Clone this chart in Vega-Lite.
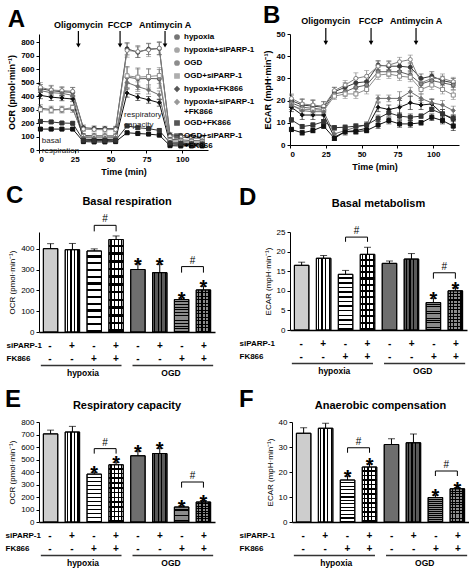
{
"$schema":"https://vega.github.io/schema/vega-lite/v6.json",
"padding":{"left":5,"top":4,"right":0,"bottom":0},
"background":"white",
"config":{"font":"Liberation Sans","view":{"stroke":null},
 "axis":{"labelFontSize":8,"labelFontWeight":"bold","titleFontSize":9,"titleFontWeight":"bold","domainColor":"black","tickColor":"black","labelColor":"black","titleColor":"black","tickSize":3,"grid":false,"labelPadding":2,"titlePadding":4,"labelOverlap":false},
 "title":{"color":"black"},"text":{"color":"black"}},
"resolve":{"scale":{"color":"independent","fill":"independent","shape":"independent"}},
"datasets":{
"ocr":[
{"s":"H","t":1,"v":455,"e":30},{"s":"H","t":8.5,"v":440,"e":35},{"s":"H","t":16,"v":432,"e":30},{"s":"H","t":23.5,"v":428,"e":35},{"s":"H","t":31,"v":165,"e":20},{"s":"H","t":38.5,"v":160,"e":18},{"s":"H","t":46,"v":158,"e":18},{"s":"H","t":53.5,"v":158,"e":18},{"s":"H","t":61.5,"v":750,"e":45},{"s":"H","t":69,"v":725,"e":40},{"s":"H","t":76.5,"v":748,"e":40},{"s":"H","t":84,"v":752,"e":45},{"s":"H","t":91.5,"v":112,"e":15},{"s":"H","t":99,"v":108,"e":12},{"s":"H","t":106.5,"v":100,"e":12},{"s":"H","t":114,"v":95,"e":12},
{"s":"HS","t":1,"v":465,"e":35},{"s":"HS","t":8.5,"v":445,"e":35},{"s":"HS","t":16,"v":440,"e":30},{"s":"HS","t":23.5,"v":435,"e":30},{"s":"HS","t":31,"v":155,"e":18},{"s":"HS","t":38.5,"v":152,"e":18},{"s":"HS","t":46,"v":150,"e":18},{"s":"HS","t":53.5,"v":152,"e":18},{"s":"HS","t":61.5,"v":738,"e":50},{"s":"HS","t":69,"v":730,"e":45},{"s":"HS","t":76.5,"v":742,"e":50},{"s":"HS","t":84,"v":755,"e":50},{"s":"HS","t":91.5,"v":100,"e":12},{"s":"HS","t":99,"v":95,"e":12},{"s":"HS","t":106.5,"v":88,"e":12},{"s":"HS","t":114,"v":85,"e":10},
{"s":"O","t":1,"v":310,"e":25},{"s":"O","t":8.5,"v":300,"e":25},{"s":"O","t":16,"v":300,"e":25},{"s":"O","t":23.5,"v":305,"e":25},{"s":"O","t":31,"v":108,"e":15},{"s":"O","t":38.5,"v":106,"e":15},{"s":"O","t":46,"v":105,"e":15},{"s":"O","t":53.5,"v":105,"e":15},{"s":"O","t":61.5,"v":540,"e":80},{"s":"O","t":69,"v":528,"e":80},{"s":"O","t":76.5,"v":530,"e":70},{"s":"O","t":84,"v":528,"e":70},{"s":"O","t":91.5,"v":80,"e":12},{"s":"O","t":99,"v":75,"e":10},{"s":"O","t":106.5,"v":70,"e":10},{"s":"O","t":114,"v":68,"e":10},
{"s":"OS","t":1,"v":300,"e":20},{"s":"OS","t":8.5,"v":295,"e":20},{"s":"OS","t":16,"v":300,"e":20},{"s":"OS","t":23.5,"v":315,"e":20},{"s":"OS","t":31,"v":100,"e":15},{"s":"OS","t":38.5,"v":98,"e":15},{"s":"OS","t":46,"v":98,"e":15},{"s":"OS","t":53.5,"v":100,"e":15},{"s":"OS","t":61.5,"v":550,"e":60},{"s":"OS","t":69,"v":540,"e":60},{"s":"OS","t":76.5,"v":545,"e":60},{"s":"OS","t":84,"v":552,"e":60},{"s":"OS","t":91.5,"v":70,"e":10},{"s":"OS","t":99,"v":65,"e":10},{"s":"OS","t":106.5,"v":60,"e":10},{"s":"OS","t":114,"v":58,"e":10},
{"s":"HF","t":1,"v":405,"e":25},{"s":"HF","t":8.5,"v":392,"e":25},{"s":"HF","t":16,"v":385,"e":20},{"s":"HF","t":23.5,"v":378,"e":20},{"s":"HF","t":31,"v":80,"e":10},{"s":"HF","t":38.5,"v":78,"e":10},{"s":"HF","t":46,"v":78,"e":10},{"s":"HF","t":53.5,"v":80,"e":10},{"s":"HF","t":61.5,"v":422,"e":30},{"s":"HF","t":69,"v":392,"e":25},{"s":"HF","t":76.5,"v":372,"e":25},{"s":"HF","t":84,"v":350,"e":25},{"s":"HF","t":91.5,"v":45,"e":10},{"s":"HF","t":99,"v":42,"e":8},{"s":"HF","t":106.5,"v":40,"e":8},{"s":"HF","t":114,"v":38,"e":8},
{"s":"HSF","t":1,"v":440,"e":30},{"s":"HSF","t":8.5,"v":425,"e":30},{"s":"HSF","t":16,"v":420,"e":25},{"s":"HSF","t":23.5,"v":405,"e":25},{"s":"HSF","t":31,"v":92,"e":10},{"s":"HSF","t":38.5,"v":90,"e":10},{"s":"HSF","t":46,"v":90,"e":10},{"s":"HSF","t":53.5,"v":92,"e":10},{"s":"HSF","t":61.5,"v":500,"e":40},{"s":"HSF","t":69,"v":470,"e":35},{"s":"HSF","t":76.5,"v":445,"e":30},{"s":"HSF","t":84,"v":408,"e":30},{"s":"HSF","t":91.5,"v":60,"e":10},{"s":"HSF","t":99,"v":55,"e":10},{"s":"HSF","t":106.5,"v":50,"e":10},{"s":"HSF","t":114,"v":48,"e":8},
{"s":"OF","t":1,"v":155,"e":10},{"s":"OF","t":8.5,"v":155,"e":10},{"s":"OF","t":16,"v":155,"e":10},{"s":"OF","t":23.5,"v":155,"e":10},{"s":"OF","t":31,"v":62,"e":8},{"s":"OF","t":38.5,"v":60,"e":8},{"s":"OF","t":46,"v":60,"e":8},{"s":"OF","t":53.5,"v":62,"e":8},{"s":"OF","t":61.5,"v":128,"e":10},{"s":"OF","t":69,"v":122,"e":10},{"s":"OF","t":76.5,"v":118,"e":10},{"s":"OF","t":84,"v":110,"e":10},{"s":"OF","t":91.5,"v":32,"e":6},{"s":"OF","t":99,"v":30,"e":6},{"s":"OF","t":106.5,"v":30,"e":6},{"s":"OF","t":114,"v":30,"e":6},
{"s":"OSF","t":1,"v":212,"e":12},{"s":"OSF","t":8.5,"v":208,"e":12},{"s":"OSF","t":16,"v":200,"e":10},{"s":"OSF","t":23.5,"v":198,"e":10},{"s":"OSF","t":31,"v":72,"e":8},{"s":"OSF","t":38.5,"v":70,"e":8},{"s":"OSF","t":46,"v":70,"e":8},{"s":"OSF","t":53.5,"v":72,"e":8},{"s":"OSF","t":61.5,"v":178,"e":12},{"s":"OSF","t":69,"v":165,"e":12},{"s":"OSF","t":76.5,"v":158,"e":12},{"s":"OSF","t":84,"v":145,"e":12},{"s":"OSF","t":91.5,"v":52,"e":6},{"s":"OSF","t":99,"v":50,"e":6},{"s":"OSF","t":106.5,"v":46,"e":6},{"s":"OSF","t":114,"v":45,"e":6}
],
"ecar":[
{"s":"H","t":1,"v":20,"e":2.5},{"s":"H","t":8.5,"v":18,"e":2.5},{"s":"H","t":16,"v":17.5,"e":2.5},{"s":"H","t":23.5,"v":17,"e":2.5},{"s":"H","t":31,"v":24,"e":2},{"s":"H","t":38.5,"v":26,"e":2},{"s":"H","t":46,"v":28,"e":2},{"s":"H","t":53.5,"v":28.5,"e":2},{"s":"H","t":61.5,"v":36,"e":2},{"s":"H","t":69,"v":35.5,"e":2},{"s":"H","t":76.5,"v":35.5,"e":2},{"s":"H","t":84,"v":35,"e":2},{"s":"H","t":91.5,"v":30,"e":2},{"s":"H","t":99,"v":31,"e":2},{"s":"H","t":106.5,"v":29,"e":2},{"s":"H","t":114,"v":28,"e":2},
{"s":"HS","t":1,"v":21,"e":2},{"s":"HS","t":8.5,"v":18.5,"e":2.5},{"s":"HS","t":16,"v":18,"e":2.5},{"s":"HS","t":23.5,"v":17.5,"e":2},{"s":"HS","t":31,"v":24.5,"e":1.5},{"s":"HS","t":38.5,"v":27,"e":2},{"s":"HS","t":46,"v":30,"e":2.5},{"s":"HS","t":53.5,"v":31,"e":2.5},{"s":"HS","t":61.5,"v":35.5,"e":2},{"s":"HS","t":69,"v":36,"e":2},{"s":"HS","t":76.5,"v":37.5,"e":2},{"s":"HS","t":84,"v":38.5,"e":2},{"s":"HS","t":91.5,"v":28,"e":2},{"s":"HS","t":99,"v":30,"e":2},{"s":"HS","t":106.5,"v":30,"e":2},{"s":"HS","t":114,"v":28.5,"e":2},
{"s":"O","t":1,"v":19,"e":2},{"s":"O","t":8.5,"v":17,"e":2},{"s":"O","t":16,"v":16.5,"e":2},{"s":"O","t":23.5,"v":16,"e":2},{"s":"O","t":31,"v":23,"e":1.5},{"s":"O","t":38.5,"v":24,"e":2},{"s":"O","t":46,"v":26,"e":2},{"s":"O","t":53.5,"v":27,"e":2},{"s":"O","t":61.5,"v":33,"e":2},{"s":"O","t":69,"v":33,"e":2},{"s":"O","t":76.5,"v":33,"e":2},{"s":"O","t":84,"v":31.5,"e":2},{"s":"O","t":91.5,"v":27.5,"e":2},{"s":"O","t":99,"v":29,"e":2},{"s":"O","t":106.5,"v":28,"e":2},{"s":"O","t":114,"v":27,"e":2},
{"s":"OS","t":1,"v":18,"e":2},{"s":"OS","t":8.5,"v":16,"e":2},{"s":"OS","t":16,"v":16,"e":2},{"s":"OS","t":23.5,"v":15.5,"e":2},{"s":"OS","t":31,"v":22,"e":1.5},{"s":"OS","t":38.5,"v":23,"e":2},{"s":"OS","t":46,"v":23,"e":2},{"s":"OS","t":53.5,"v":25,"e":2},{"s":"OS","t":61.5,"v":31.5,"e":2},{"s":"OS","t":69,"v":32,"e":2},{"s":"OS","t":76.5,"v":31,"e":2},{"s":"OS","t":84,"v":30.5,"e":2},{"s":"OS","t":91.5,"v":25,"e":2},{"s":"OS","t":99,"v":27,"e":2},{"s":"OS","t":106.5,"v":25,"e":2},{"s":"OS","t":114,"v":22.5,"e":2},
{"s":"HF","t":1,"v":17,"e":2},{"s":"HF","t":8.5,"v":13.5,"e":2},{"s":"HF","t":16,"v":13.5,"e":2},{"s":"HF","t":23.5,"v":13.5,"e":2},{"s":"HF","t":31,"v":3.5,"e":1.5},{"s":"HF","t":38.5,"v":6,"e":1.5},{"s":"HF","t":46,"v":6.5,"e":1.5},{"s":"HF","t":53.5,"v":7.5,"e":1.5},{"s":"HF","t":61.5,"v":17,"e":2},{"s":"HF","t":69,"v":16,"e":2},{"s":"HF","t":76.5,"v":17,"e":3},{"s":"HF","t":84,"v":19,"e":3},{"s":"HF","t":91.5,"v":18,"e":2},{"s":"HF","t":99,"v":18.5,"e":2},{"s":"HF","t":106.5,"v":14,"e":2},{"s":"HF","t":114,"v":11.5,"e":2},
{"s":"HSF","t":1,"v":18,"e":2},{"s":"HSF","t":8.5,"v":15.5,"e":2},{"s":"HSF","t":16,"v":15,"e":2},{"s":"HSF","t":23.5,"v":15,"e":2},{"s":"HSF","t":31,"v":5,"e":1.5},{"s":"HSF","t":38.5,"v":6.5,"e":1.5},{"s":"HSF","t":46,"v":8,"e":1.5},{"s":"HSF","t":53.5,"v":9,"e":1.5},{"s":"HSF","t":61.5,"v":21,"e":1.5},{"s":"HSF","t":69,"v":21,"e":1.5},{"s":"HSF","t":76.5,"v":21,"e":3},{"s":"HSF","t":84,"v":24,"e":2},{"s":"HSF","t":91.5,"v":21,"e":2},{"s":"HSF","t":99,"v":19,"e":2},{"s":"HSF","t":106.5,"v":18,"e":2},{"s":"HSF","t":114,"v":15.5,"e":2},
{"s":"OF","t":1,"v":7,"e":1},{"s":"OF","t":8.5,"v":5.5,"e":1},{"s":"OF","t":16,"v":6.5,"e":1},{"s":"OF","t":23.5,"v":8.5,"e":1},{"s":"OF","t":31,"v":3,"e":1},{"s":"OF","t":38.5,"v":6,"e":1},{"s":"OF","t":46,"v":6,"e":1},{"s":"OF","t":53.5,"v":6.5,"e":1},{"s":"OF","t":61.5,"v":9,"e":1.5},{"s":"OF","t":69,"v":11,"e":1.5},{"s":"OF","t":76.5,"v":9.5,"e":1.5},{"s":"OF","t":84,"v":9.5,"e":1.5},{"s":"OF","t":91.5,"v":10,"e":1},{"s":"OF","t":99,"v":12.5,"e":1.5},{"s":"OF","t":106.5,"v":11,"e":1.5},{"s":"OF","t":114,"v":8.5,"e":2},
{"s":"OSF","t":1,"v":11.3,"e":1},{"s":"OSF","t":8.5,"v":8.3,"e":1},{"s":"OSF","t":16,"v":9,"e":1},{"s":"OSF","t":23.5,"v":10.5,"e":1},{"s":"OSF","t":31,"v":7.8,"e":1},{"s":"OSF","t":38.5,"v":8,"e":1},{"s":"OSF","t":46,"v":8.5,"e":1},{"s":"OSF","t":53.5,"v":9,"e":1},{"s":"OSF","t":61.5,"v":12,"e":1.5},{"s":"OSF","t":69,"v":14.5,"e":1.5},{"s":"OSF","t":76.5,"v":13,"e":1.5},{"s":"OSF","t":84,"v":12.5,"e":1.5},{"s":"OSF","t":91.5,"v":13,"e":1},{"s":"OSF","t":99,"v":16,"e":1},{"s":"OSF","t":106.5,"v":14,"e":1},{"s":"OSF","t":114,"v":12,"e":1}
],
"drugs":[
{"p":"A","drug":"Oligomycin","t":27.5,"ty":904,"y1":882,"y2":775},
{"p":"A","drug":"FCCP","t":56.6,"ty":904,"y1":882,"y2":775},
{"p":"A","drug":"Antimycin A","t":88,"ty":904,"y1":882,"y2":775},
{"p":"B","drug":"Oligomycin","t":25,"ty":54.5,"y1":52.7,"y2":46},
{"p":"B","drug":"FCCP","t":56.6,"ty":54.5,"y1":52.7,"y2":46},
{"p":"B","drug":"Antimycin A","t":88,"ty":54.5,"y1":52.7,"y2":46}
],
"notes":[
{"t":2,"y":67,"txt":"basal\nrespiration"},
{"t":59.4,"y":259,"txt":"respiratory\ncapacity"}
],
"bars":[
{"p":"C","c":"H","v":400,"e":24,"sig":0},{"p":"C","c":"HS","v":395,"e":30,"sig":0},{"p":"C","c":"HF","v":389,"e":10,"sig":0},{"p":"C","c":"HSF","v":444,"e":17,"sig":0},{"p":"C","c":"O","v":300,"e":28,"sig":1},{"p":"C","c":"OS","v":285,"e":40,"sig":1},{"p":"C","c":"OF","v":156,"e":8,"sig":1},{"p":"C","c":"OSF","v":202,"e":18,"sig":1},
{"p":"D","c":"H","v":16.5,"e":0.8,"sig":0},{"p":"D","c":"HS","v":18.3,"e":0.7,"sig":0},{"p":"D","c":"HF","v":14.2,"e":1.0,"sig":0},{"p":"D","c":"HSF","v":19.3,"e":1.8,"sig":0},{"p":"D","c":"O","v":17,"e":0.6,"sig":0},{"p":"D","c":"OS","v":18.1,"e":1.4,"sig":0},{"p":"D","c":"OF","v":7.0,"e":1.1,"sig":1},{"p":"D","c":"OSF","v":10.0,"e":0.8,"sig":1},
{"p":"E","c":"H","v":705,"e":30,"sig":0},{"p":"E","c":"HS","v":720,"e":45,"sig":0},{"p":"E","c":"HF","v":383,"e":15,"sig":1},{"p":"E","c":"HSF","v":458,"e":20,"sig":1},{"p":"E","c":"O","v":530,"e":37,"sig":1},{"p":"E","c":"OS","v":548,"e":42,"sig":1},{"p":"E","c":"OF","v":120,"e":8,"sig":1},{"p":"E","c":"OSF","v":160,"e":12,"sig":1},
{"p":"F","c":"H","v":35.5,"e":2.2,"sig":0},{"p":"F","c":"HS","v":37.5,"e":2.0,"sig":0},{"p":"F","c":"HF","v":16.8,"e":1.6,"sig":1},{"p":"F","c":"HSF","v":22,"e":1.3,"sig":1},{"p":"F","c":"O","v":31,"e":2.3,"sig":0},{"p":"F","c":"OS","v":31.7,"e":3.5,"sig":0},{"p":"F","c":"OF","v":9.8,"e":1.0,"sig":1},{"p":"F","c":"OSF","v":13.3,"e":0.5,"sig":1}
],
"brk":[
{"p":"C","pair":"h","c":"HF","hi":512,"lo":483},{"p":"C","pair":"h","c":"HSF","hi":512,"lo":483},{"p":"C","pair":"o","c":"OF","hi":314,"lo":285},{"p":"C","pair":"o","c":"OSF","hi":314,"lo":285},
{"p":"D","pair":"h","c":"HF","hi":23.7,"lo":22.5},{"p":"D","pair":"h","c":"HSF","hi":23.7,"lo":22.5},{"p":"D","pair":"o","c":"OF","hi":14.6,"lo":13.1},{"p":"D","pair":"o","c":"OSF","hi":14.6,"lo":13.1},
{"p":"E","pair":"h","c":"HF","hi":587,"lo":547},{"p":"E","pair":"h","c":"HSF","hi":587,"lo":547},{"p":"E","pair":"o","c":"OF","hi":320,"lo":275},{"p":"E","pair":"o","c":"OSF","hi":320,"lo":275},
{"p":"F","pair":"h","c":"HF","hi":29.7,"lo":27.7},{"p":"F","pair":"h","c":"HSF","hi":29.7,"lo":27.7},{"p":"F","pair":"o","c":"OF","hi":20.4,"lo":18.4},{"p":"F","pair":"o","c":"OSF","hi":20.4,"lo":18.4}
],
"signs":[
{"c":"H","row":"siPARP-1","sign":"-"},{"c":"HS","row":"siPARP-1","sign":"+"},{"c":"HF","row":"siPARP-1","sign":"-"},{"c":"HSF","row":"siPARP-1","sign":"+"},{"c":"O","row":"siPARP-1","sign":"-"},{"c":"OS","row":"siPARP-1","sign":"+"},{"c":"OF","row":"siPARP-1","sign":"-"},{"c":"OSF","row":"siPARP-1","sign":"+"},
{"c":"H","row":"FK866","sign":"-"},{"c":"HS","row":"FK866","sign":"-"},{"c":"HF","row":"FK866","sign":"+"},{"c":"HSF","row":"FK866","sign":"+"},{"c":"O","row":"FK866","sign":"-"},{"c":"OS","row":"FK866","sign":"-"},{"c":"OF","row":"FK866","sign":"+"},{"c":"OSF","row":"FK866","sign":"+"}
],
"groups":[{"g":"hypoxia","row":"grp"},{"g":"OGD","row":"grp"}]
},
"spacing":8,
"vconcat":[
{"hconcat":[
{"width":169,"height":116,
 "title":{"text":"A","anchor":"start","fontSize":24,"fontWeight":"bold","offset":-11},
 "layer":[
  {"data":{"name":"ocr"},
   "encoding":{
    "x":{"field":"t","type":"quantitative","title":"Time (min)","scale":{"domain":[0,118],"nice":false},"axis":{"values":[0,25,50,75,100]}},
    "y":{"field":"v","type":"quantitative","title":"OCR (pmol·min⁻¹)","scale":{"domain":[0,860],"nice":false},"axis":{"values":[0,100,200,300,400,500,600,700,800]}},
    "color":{"field":"s","type":"nominal","scale":{"domain":["H","HS","O","OS","HF","HSF","OF","OSF"],"range":["#3a3a3a","#808080","#5c5c5c","#8c8c8c","#111111","#6e6e6e","#111111","#333333"]},
     "legend":{"title":null,"orient":"none","legendX":134,"legendY":-1,"labelFontSize":8,"labelFontWeight":"bold","symbolSize":18,"symbolType":"circle","symbolStrokeWidth":1.5,"rowPadding":1,"labelLimit":80,"labelOffset":3,
      "labelExpr":"datum.label=='H'?'hypoxia':datum.label=='HS'?'hypoxia+siPARP-1':datum.label=='O'?'OGD':datum.label=='OS'?'OGD+siPARP-1':datum.label=='HF'?'hypoxia+FK866':datum.label=='HSF'?['hypoxia+siPARP-1','+FK866']:datum.label=='OF'?'OGD+FK866':['OGD+siPARP-1','+FK866']"}}
   },
   "layer":[
    {"mark":{"type":"errorbar","ticks":true,"thickness":0.8},"encoding":{"yError":{"field":"e"}}},
    {"mark":{"type":"line","strokeWidth":1}},
    {"mark":{"type":"point","size":16,"strokeWidth":1,"opacity":1},
     "encoding":{
      "shape":{"field":"s","type":"nominal","scale":{"domain":["H","HS","O","OS","HF","HSF","OF","OSF"],"range":["circle","circle","circle","square","diamond","diamond","square","square"]},"legend":null},
      "fill":{"field":"s","type":"nominal","scale":{"domain":["H","HS","O","OS","HF","HSF","OF","OSF"],"range":["#3a3a3a","#ffffff","#8c8c8c","#ffffff","#111111","#6e6e6e","#111111","#333333"]},"legend":null}
     }}
   ]},
  {"data":{"name":"drugs"},"transform":[{"filter":"datum.p=='A'"}],
   "encoding":{"x":{"field":"t","type":"quantitative","title":"Time (min)","axis":{"values":[0,25,50,75,100]}}},
   "layer":[
    {"mark":{"type":"text","fontSize":9,"fontWeight":"bold","baseline":"alphabetic"},"encoding":{"y":{"field":"ty","type":"quantitative","title":"OCR (pmol·min⁻¹)","axis":{"values":[0,100,200,300,400,500,600,700,800]}},"text":{"field":"drug"}}},
    {"mark":{"type":"rule","strokeWidth":1.2,"color":"black"},"encoding":{"y":{"field":"y1","type":"quantitative","title":"OCR (pmol·min⁻¹)","axis":{"values":[0,100,200,300,400,500,600,700,800]}},"y2":{"field":"y2"}}},
    {"mark":{"type":"point","shape":"triangle-down","filled":true,"size":22,"color":"black","opacity":1},"encoding":{"y":{"field":"y2","type":"quantitative","title":"OCR (pmol·min⁻¹)","axis":{"values":[0,100,200,300,400,500,600,700,800]}}}}
   ]},
  {"data":{"name":"notes"},"mark":{"type":"text","lineBreak":"\n","align":"left","baseline":"middle","fontSize":8,"color":"#222"},
   "encoding":{"x":{"field":"t","type":"quantitative","title":"Time (min)","axis":{"values":[0,25,50,75,100]}},"y":{"field":"y","type":"quantitative","title":"OCR (pmol·min⁻¹)","axis":{"values":[0,100,200,300,400,500,600,700,800]}},"text":{"field":"txt"}}}
 ]},
{"width":169,"height":111,
 "title":{"text":"B","anchor":"start","fontSize":24,"fontWeight":"bold","offset":-11},
 "layer":[
  {"data":{"name":"ecar"},
   "encoding":{
    "x":{"field":"t","type":"quantitative","title":"Time (min)","scale":{"domain":[0,118],"nice":false},"axis":{"values":[0,25,50,75,100]}},
    "y":{"field":"v","type":"quantitative","title":"ECAR (mpH·min⁻¹)","scale":{"domain":[0,50],"nice":false},"axis":{"values":[0,10,20,30,40,50]}},
    "color":{"field":"s","type":"nominal","scale":{"domain":["H","HS","O","OS","HF","HSF","OF","OSF"],"range":["#3a3a3a","#808080","#5c5c5c","#8c8c8c","#111111","#6e6e6e","#111111","#333333"]},"legend":null}
   },
   "layer":[
    {"mark":{"type":"errorbar","ticks":true,"thickness":0.8},"encoding":{"yError":{"field":"e"}}},
    {"mark":{"type":"line","strokeWidth":1}},
    {"mark":{"type":"point","size":16,"strokeWidth":1,"opacity":1},
     "encoding":{
      "shape":{"field":"s","type":"nominal","scale":{"domain":["H","HS","O","OS","HF","HSF","OF","OSF"],"range":["circle","circle","circle","square","diamond","diamond","square","square"]},"legend":null},
      "fill":{"field":"s","type":"nominal","scale":{"domain":["H","HS","O","OS","HF","HSF","OF","OSF"],"range":["#3a3a3a","#ffffff","#8c8c8c","#ffffff","#111111","#6e6e6e","#111111","#333333"]},"legend":null}
     }}
   ]},
  {"data":{"name":"drugs"},"transform":[{"filter":"datum.p=='B'"}],
   "encoding":{"x":{"field":"t","type":"quantitative","title":"Time (min)","axis":{"values":[0,25,50,75,100]}}},
   "layer":[
    {"mark":{"type":"text","fontSize":9,"fontWeight":"bold","baseline":"alphabetic"},"encoding":{"y":{"field":"ty","type":"quantitative","title":"ECAR (mpH·min⁻¹)","axis":{"values":[0,10,20,30,40,50]}},"text":{"field":"drug"}}},
    {"mark":{"type":"rule","strokeWidth":1.2,"color":"black"},"encoding":{"y":{"field":"y1","type":"quantitative","title":"ECAR (mpH·min⁻¹)","axis":{"values":[0,10,20,30,40,50]}},"y2":{"field":"y2"}}},
    {"mark":{"type":"point","shape":"triangle-down","filled":true,"size":22,"color":"black","opacity":1},"encoding":{"y":{"field":"y2","type":"quantitative","title":"ECAR (mpH·min⁻¹)","axis":{"values":[0,10,20,30,40,50]}}}}
   ]}
 ]}
],"spacing":8,"resolve":{"scale":{"color":"independent","fill":"independent","shape":"independent"}}},
{"spacing":10,"vconcat":[
{"hconcat":[
{"title":{"text":"C","anchor":"start","fontSize":24,"fontWeight":"bold","offset":-12},"spacing":3,
 "vconcat":[
 {"width":176,"height":100,
  "title":{"text":"Basal respiration","fontSize":11,"fontWeight":"bold","offset":7},
  "encoding":{"x":{"field":"c","type":"nominal","title":null,"scale":{"domain":["H","HS","HF","HSF","O","OS","OF","OSF"],"paddingInner":0.34,"paddingOuter":0.2},"axis":{"labels":false,"ticks":false,"domainWidth":1.5}}},
  "layer":[
   {"data":{"name":"bars"},"transform":[{"filter":"datum.p=='C'"},{"calculate":"datum.v+datum.e","as":"top"}],
    "encoding":{"y":{"field":"v","type":"quantitative","title":"OCR (pmol·min⁻¹)","scale":{"domain":[0,480],"nice":false},"axis":{"values":[0,100,200,300,400],"labelFontWeight":"normal","titleFontWeight":"normal","titleFontSize":8}}},
    "layer":[
     {"mark":{"type":"rule","color":"black"},"encoding":{"y2":{"field":"top"}}},
     {"mark":{"type":"tick","color":"black","size":7,"thickness":1},"encoding":{"y":{"field":"top","type":"quantitative","title":"OCR (pmol·min⁻¹)","scale":{"domain":[0,480],"nice":false},"axis":{"values":[0,100,200,300,400],"labelFontWeight":"normal","titleFontWeight":"normal","titleFontSize":8}}}},
     {"mark":{"type":"bar","stroke":"black","strokeWidth":1},"encoding":{"fill":{"field":"c","type":"nominal","scale":{"domain":["H","HS","HF","HSF","O","OS","OF","OSF"],"range":["#cdcdcd","#ffffff","#ffffff","#ffffff","#6e6e6e","#5a5a5a","#8a8a8a","#8a8a8a"]},"legend":null}}},
     {"transform":[{"filter":"indexof(datum.c,'S')>=0"}],"mark":{"type":"bar","strokeWidth":0,"fill":{"gradient":"linear","x1":0,"y1":0,"x2":1,"y2":0,"stops":[{"offset":0,"color":"transparent"},{"offset":0.1,"color":"transparent"},{"offset":0.1,"color":"#000"},{"offset":0.19,"color":"#000"},{"offset":0.19,"color":"transparent"},{"offset":0.35,"color":"transparent"},{"offset":0.35,"color":"#000"},{"offset":0.44,"color":"#000"},{"offset":0.44,"color":"transparent"},{"offset":0.6,"color":"transparent"},{"offset":0.6,"color":"#000"},{"offset":0.69,"color":"#000"},{"offset":0.69,"color":"transparent"},{"offset":0.85,"color":"transparent"},{"offset":0.85,"color":"#000"},{"offset":0.94,"color":"#000"},{"offset":0.94,"color":"transparent"},{"offset":1,"color":"transparent"}]}}},
     {"transform":[{"filter":"indexof(datum.c,'F')>=0"}],"mark":{"type":"bar","strokeWidth":0,"fill":{"gradient":"linear","x1":0,"y1":0,"x2":0,"y2":1,"stops":[{"offset":0,"color":"transparent"},{"offset":0.055,"color":"transparent"},{"offset":0.055,"color":"#000"},{"offset":0.0833,"color":"#000"},{"offset":0.0833,"color":"transparent"},{"offset":0.1383,"color":"transparent"},{"offset":0.1383,"color":"#000"},{"offset":0.1667,"color":"#000"},{"offset":0.1667,"color":"transparent"},{"offset":0.2217,"color":"transparent"},{"offset":0.2217,"color":"#000"},{"offset":0.25,"color":"#000"},{"offset":0.25,"color":"transparent"},{"offset":0.305,"color":"transparent"},{"offset":0.305,"color":"#000"},{"offset":0.3333,"color":"#000"},{"offset":0.3333,"color":"transparent"},{"offset":0.3883,"color":"transparent"},{"offset":0.3883,"color":"#000"},{"offset":0.4167,"color":"#000"},{"offset":0.4167,"color":"transparent"},{"offset":0.4717,"color":"transparent"},{"offset":0.4717,"color":"#000"},{"offset":0.5,"color":"#000"},{"offset":0.5,"color":"transparent"},{"offset":0.555,"color":"transparent"},{"offset":0.555,"color":"#000"},{"offset":0.5833,"color":"#000"},{"offset":0.5833,"color":"transparent"},{"offset":0.6383,"color":"transparent"},{"offset":0.6383,"color":"#000"},{"offset":0.6667,"color":"#000"},{"offset":0.6667,"color":"transparent"},{"offset":0.7217,"color":"transparent"},{"offset":0.7217,"color":"#000"},{"offset":0.75,"color":"#000"},{"offset":0.75,"color":"transparent"},{"offset":0.805,"color":"transparent"},{"offset":0.805,"color":"#000"},{"offset":0.8333,"color":"#000"},{"offset":0.8333,"color":"transparent"},{"offset":0.8883,"color":"transparent"},{"offset":0.8883,"color":"#000"},{"offset":0.9167,"color":"#000"},{"offset":0.9167,"color":"transparent"},{"offset":0.9717,"color":"transparent"},{"offset":0.9717,"color":"#000"},{"offset":1,"color":"#000"}]}}},
     {"mark":{"type":"bar","fillOpacity":0,"stroke":"black","strokeWidth":1}},
     {"transform":[{"filter":"datum.sig==1"}],"mark":{"type":"text","text":"*","fontSize":20,"fontWeight":"bold","baseline":"alphabetic","dy":8},"encoding":{"y":{"field":"top","type":"quantitative","title":"OCR (pmol·min⁻¹)","scale":{"domain":[0,480],"nice":false},"axis":{"values":[0,100,200,300,400],"labelFontWeight":"normal","titleFontWeight":"normal","titleFontSize":8}}}}
    ]},
   {"data":{"name":"brk"},"transform":[{"filter":"datum.p=='C'"}],
    "encoding":{"y":{"field":"hi","type":"quantitative","title":"OCR (pmol·min⁻¹)","scale":{"domain":[0,480],"nice":false},"axis":{"values":[0,100,200,300,400],"labelFontWeight":"normal","titleFontWeight":"normal","titleFontSize":8}}},
    "layer":[
     {"mark":{"type":"rule","color":"black"},"encoding":{"y2":{"field":"lo"}}},
     {"mark":{"type":"line","color":"black","strokeWidth":1},"encoding":{"detail":{"field":"pair"}}},
     {"transform":[{"filter":"indexof(datum.c,'S')>=0"}],"mark":{"type":"text","text":"#","fontSize":10,"baseline":"bottom","dy":-1,"xOffset":-11}}
    ]}
  ]},
 {"width":176,"height":39,
  "layer":[
   {"data":{"name":"signs"},"mark":{"type":"text","fontSize":10,"fontWeight":"bold"},
    "encoding":{"x":{"field":"c","type":"nominal","scale":{"domain":["H","HS","HF","HSF","O","OS","OF","OSF"],"paddingInner":0.34,"paddingOuter":0.2},"axis":null},
     "y":{"field":"row","type":"nominal","scale":{"domain":["siPARP-1","FK866","grp"],"paddingInner":0,"paddingOuter":0},"axis":{"title":null,"domain":false,"ticks":false,"labelAlign":"left","labelPadding":33,"labelFontSize":8,"labelExpr":"datum.label=='grp'?'':datum.label"}},
     "text":{"field":"sign"}}},
   {"data":{"name":"groups"},"mark":{"type":"bar","height":1.5,"yOffset":-6,"color":"#333"},
    "encoding":{"x":{"field":"g","type":"nominal","scale":{"domain":["hypoxia","OGD"],"paddingInner":0.12,"paddingOuter":0.02},"axis":null},"y":{"field":"row","type":"nominal"}}},
   {"data":{"name":"groups"},"mark":{"type":"text","fontSize":8.5,"fontWeight":"bold","yOffset":1},
    "encoding":{"x":{"field":"g","type":"nominal","scale":{"domain":["hypoxia","OGD"],"paddingInner":0.12,"paddingOuter":0.02},"axis":null},"y":{"field":"row","type":"nominal"},"text":{"field":"g"}}}
  ],
  "resolve":{"scale":{"x":"independent"}}}
 ]},
{"title":{"text":"D","anchor":"start","fontSize":24,"fontWeight":"bold","offset":-12},"spacing":3,
 "vconcat":[
 {"width":177,"height":98,
  "title":{"text":"Basal metabolism","fontSize":11,"fontWeight":"bold","offset":17},
  "encoding":{"x":{"field":"c","type":"nominal","title":null,"scale":{"domain":["H","HS","HF","HSF","O","OS","OF","OSF"],"paddingInner":0.34,"paddingOuter":0.2},"axis":{"labels":false,"ticks":false,"domainWidth":1.5}}},
  "layer":[
   {"data":{"name":"bars"},"transform":[{"filter":"datum.p=='D'"},{"calculate":"datum.v+datum.e","as":"top"}],
    "encoding":{"y":{"field":"v","type":"quantitative","title":"ECAR (mpH·min⁻¹)","scale":{"domain":[0,25],"nice":false},"axis":{"values":[0,5,10,15,20,25],"labelFontWeight":"normal","titleFontWeight":"normal","titleFontSize":8}}},
    "layer":[
     {"mark":{"type":"rule","color":"black"},"encoding":{"y2":{"field":"top"}}},
     {"mark":{"type":"tick","color":"black","size":7,"thickness":1},"encoding":{"y":{"field":"top","type":"quantitative","title":"ECAR (mpH·min⁻¹)","scale":{"domain":[0,25],"nice":false},"axis":{"values":[0,5,10,15,20,25],"labelFontWeight":"normal","titleFontWeight":"normal","titleFontSize":8}}}},
     {"mark":{"type":"bar","stroke":"black","strokeWidth":1},"encoding":{"fill":{"field":"c","type":"nominal","scale":{"domain":["H","HS","HF","HSF","O","OS","OF","OSF"],"range":["#cdcdcd","#ffffff","#ffffff","#ffffff","#6e6e6e","#5a5a5a","#8a8a8a","#8a8a8a"]},"legend":null}}},
     {"transform":[{"filter":"indexof(datum.c,'S')>=0"}],"mark":{"type":"bar","strokeWidth":0,"fill":{"gradient":"linear","x1":0,"y1":0,"x2":1,"y2":0,"stops":[{"offset":0,"color":"transparent"},{"offset":0.1,"color":"transparent"},{"offset":0.1,"color":"#000"},{"offset":0.19,"color":"#000"},{"offset":0.19,"color":"transparent"},{"offset":0.35,"color":"transparent"},{"offset":0.35,"color":"#000"},{"offset":0.44,"color":"#000"},{"offset":0.44,"color":"transparent"},{"offset":0.6,"color":"transparent"},{"offset":0.6,"color":"#000"},{"offset":0.69,"color":"#000"},{"offset":0.69,"color":"transparent"},{"offset":0.85,"color":"transparent"},{"offset":0.85,"color":"#000"},{"offset":0.94,"color":"#000"},{"offset":0.94,"color":"transparent"},{"offset":1,"color":"transparent"}]}}},
     {"transform":[{"filter":"indexof(datum.c,'F')>=0"}],"mark":{"type":"bar","strokeWidth":0,"fill":{"gradient":"linear","x1":0,"y1":0,"x2":0,"y2":1,"stops":[{"offset":0,"color":"transparent"},{"offset":0.055,"color":"transparent"},{"offset":0.055,"color":"#000"},{"offset":0.0833,"color":"#000"},{"offset":0.0833,"color":"transparent"},{"offset":0.1383,"color":"transparent"},{"offset":0.1383,"color":"#000"},{"offset":0.1667,"color":"#000"},{"offset":0.1667,"color":"transparent"},{"offset":0.2217,"color":"transparent"},{"offset":0.2217,"color":"#000"},{"offset":0.25,"color":"#000"},{"offset":0.25,"color":"transparent"},{"offset":0.305,"color":"transparent"},{"offset":0.305,"color":"#000"},{"offset":0.3333,"color":"#000"},{"offset":0.3333,"color":"transparent"},{"offset":0.3883,"color":"transparent"},{"offset":0.3883,"color":"#000"},{"offset":0.4167,"color":"#000"},{"offset":0.4167,"color":"transparent"},{"offset":0.4717,"color":"transparent"},{"offset":0.4717,"color":"#000"},{"offset":0.5,"color":"#000"},{"offset":0.5,"color":"transparent"},{"offset":0.555,"color":"transparent"},{"offset":0.555,"color":"#000"},{"offset":0.5833,"color":"#000"},{"offset":0.5833,"color":"transparent"},{"offset":0.6383,"color":"transparent"},{"offset":0.6383,"color":"#000"},{"offset":0.6667,"color":"#000"},{"offset":0.6667,"color":"transparent"},{"offset":0.7217,"color":"transparent"},{"offset":0.7217,"color":"#000"},{"offset":0.75,"color":"#000"},{"offset":0.75,"color":"transparent"},{"offset":0.805,"color":"transparent"},{"offset":0.805,"color":"#000"},{"offset":0.8333,"color":"#000"},{"offset":0.8333,"color":"transparent"},{"offset":0.8883,"color":"transparent"},{"offset":0.8883,"color":"#000"},{"offset":0.9167,"color":"#000"},{"offset":0.9167,"color":"transparent"},{"offset":0.9717,"color":"transparent"},{"offset":0.9717,"color":"#000"},{"offset":1,"color":"#000"}]}}},
     {"mark":{"type":"bar","fillOpacity":0,"stroke":"black","strokeWidth":1}},
     {"transform":[{"filter":"datum.sig==1"}],"mark":{"type":"text","text":"*","fontSize":20,"fontWeight":"bold","baseline":"alphabetic","dy":8},"encoding":{"y":{"field":"top","type":"quantitative","title":"ECAR (mpH·min⁻¹)","scale":{"domain":[0,25],"nice":false},"axis":{"values":[0,5,10,15,20,25],"labelFontWeight":"normal","titleFontWeight":"normal","titleFontSize":8}}}}
    ]},
   {"data":{"name":"brk"},"transform":[{"filter":"datum.p=='D'"}],
    "encoding":{"y":{"field":"hi","type":"quantitative","title":"ECAR (mpH·min⁻¹)","scale":{"domain":[0,25],"nice":false},"axis":{"values":[0,5,10,15,20,25],"labelFontWeight":"normal","titleFontWeight":"normal","titleFontSize":8}}},
    "layer":[
     {"mark":{"type":"rule","color":"black"},"encoding":{"y2":{"field":"lo"}}},
     {"mark":{"type":"line","color":"black","strokeWidth":1},"encoding":{"detail":{"field":"pair"}}},
     {"transform":[{"filter":"indexof(datum.c,'S')>=0"}],"mark":{"type":"text","text":"#","fontSize":10,"baseline":"bottom","dy":-1,"xOffset":-11}}
    ]}
  ]},
 {"width":177,"height":39,
  "layer":[
   {"data":{"name":"signs"},"mark":{"type":"text","fontSize":10,"fontWeight":"bold"},
    "encoding":{"x":{"field":"c","type":"nominal","scale":{"domain":["H","HS","HF","HSF","O","OS","OF","OSF"],"paddingInner":0.34,"paddingOuter":0.2},"axis":null},
     "y":{"field":"row","type":"nominal","scale":{"domain":["siPARP-1","FK866","grp"],"paddingInner":0,"paddingOuter":0},"axis":{"title":null,"domain":false,"ticks":false,"labelAlign":"left","labelPadding":51,"labelFontSize":8,"labelExpr":"datum.label=='grp'?'':datum.label"}},
     "text":{"field":"sign"}}},
   {"data":{"name":"groups"},"mark":{"type":"bar","height":1.5,"yOffset":-6,"color":"#333"},
    "encoding":{"x":{"field":"g","type":"nominal","scale":{"domain":["hypoxia","OGD"],"paddingInner":0.12,"paddingOuter":0.02},"axis":null},"y":{"field":"row","type":"nominal"}}},
   {"data":{"name":"groups"},"mark":{"type":"text","fontSize":8.5,"fontWeight":"bold","yOffset":1},
    "encoding":{"x":{"field":"g","type":"nominal","scale":{"domain":["hypoxia","OGD"],"paddingInner":0.12,"paddingOuter":0.02},"axis":null},"y":{"field":"row","type":"nominal"},"text":{"field":"g"}}}
  ],
  "resolve":{"scale":{"x":"independent"}}}
 ]}
],"spacing":24},
{"hconcat":[
{"title":{"text":"E","anchor":"start","fontSize":24,"fontWeight":"bold","offset":-12},"spacing":3,
 "vconcat":[
 {"width":176,"height":100,
  "title":{"text":"Respiratory capacity","fontSize":11,"fontWeight":"bold","offset":7},
  "encoding":{"x":{"field":"c","type":"nominal","title":null,"scale":{"domain":["H","HS","HF","HSF","O","OS","OF","OSF"],"paddingInner":0.34,"paddingOuter":0.2},"axis":{"labels":false,"ticks":false,"domainWidth":1.5}}},
  "layer":[
   {"data":{"name":"bars"},"transform":[{"filter":"datum.p=='E'"},{"calculate":"datum.v+datum.e","as":"top"}],
    "encoding":{"y":{"field":"v","type":"quantitative","title":"OCR (pmol·min⁻¹)","scale":{"domain":[0,800],"nice":false},"axis":{"values":[0,100,200,300,400,500,600,700,800],"labelFontWeight":"normal","titleFontWeight":"normal","titleFontSize":8}}},
    "layer":[
     {"mark":{"type":"rule","color":"black"},"encoding":{"y2":{"field":"top"}}},
     {"mark":{"type":"tick","color":"black","size":7,"thickness":1},"encoding":{"y":{"field":"top","type":"quantitative","title":"OCR (pmol·min⁻¹)","scale":{"domain":[0,800],"nice":false},"axis":{"values":[0,100,200,300,400,500,600,700,800],"labelFontWeight":"normal","titleFontWeight":"normal","titleFontSize":8}}}},
     {"mark":{"type":"bar","stroke":"black","strokeWidth":1},"encoding":{"fill":{"field":"c","type":"nominal","scale":{"domain":["H","HS","HF","HSF","O","OS","OF","OSF"],"range":["#cdcdcd","#ffffff","#ffffff","#ffffff","#6e6e6e","#5a5a5a","#8a8a8a","#8a8a8a"]},"legend":null}}},
     {"transform":[{"filter":"indexof(datum.c,'S')>=0"}],"mark":{"type":"bar","strokeWidth":0,"fill":{"gradient":"linear","x1":0,"y1":0,"x2":1,"y2":0,"stops":[{"offset":0,"color":"transparent"},{"offset":0.1,"color":"transparent"},{"offset":0.1,"color":"#000"},{"offset":0.19,"color":"#000"},{"offset":0.19,"color":"transparent"},{"offset":0.35,"color":"transparent"},{"offset":0.35,"color":"#000"},{"offset":0.44,"color":"#000"},{"offset":0.44,"color":"transparent"},{"offset":0.6,"color":"transparent"},{"offset":0.6,"color":"#000"},{"offset":0.69,"color":"#000"},{"offset":0.69,"color":"transparent"},{"offset":0.85,"color":"transparent"},{"offset":0.85,"color":"#000"},{"offset":0.94,"color":"#000"},{"offset":0.94,"color":"transparent"},{"offset":1,"color":"transparent"}]}}},
     {"transform":[{"filter":"indexof(datum.c,'F')>=0"}],"mark":{"type":"bar","strokeWidth":0,"fill":{"gradient":"linear","x1":0,"y1":0,"x2":0,"y2":1,"stops":[{"offset":0,"color":"transparent"},{"offset":0.055,"color":"transparent"},{"offset":0.055,"color":"#000"},{"offset":0.0833,"color":"#000"},{"offset":0.0833,"color":"transparent"},{"offset":0.1383,"color":"transparent"},{"offset":0.1383,"color":"#000"},{"offset":0.1667,"color":"#000"},{"offset":0.1667,"color":"transparent"},{"offset":0.2217,"color":"transparent"},{"offset":0.2217,"color":"#000"},{"offset":0.25,"color":"#000"},{"offset":0.25,"color":"transparent"},{"offset":0.305,"color":"transparent"},{"offset":0.305,"color":"#000"},{"offset":0.3333,"color":"#000"},{"offset":0.3333,"color":"transparent"},{"offset":0.3883,"color":"transparent"},{"offset":0.3883,"color":"#000"},{"offset":0.4167,"color":"#000"},{"offset":0.4167,"color":"transparent"},{"offset":0.4717,"color":"transparent"},{"offset":0.4717,"color":"#000"},{"offset":0.5,"color":"#000"},{"offset":0.5,"color":"transparent"},{"offset":0.555,"color":"transparent"},{"offset":0.555,"color":"#000"},{"offset":0.5833,"color":"#000"},{"offset":0.5833,"color":"transparent"},{"offset":0.6383,"color":"transparent"},{"offset":0.6383,"color":"#000"},{"offset":0.6667,"color":"#000"},{"offset":0.6667,"color":"transparent"},{"offset":0.7217,"color":"transparent"},{"offset":0.7217,"color":"#000"},{"offset":0.75,"color":"#000"},{"offset":0.75,"color":"transparent"},{"offset":0.805,"color":"transparent"},{"offset":0.805,"color":"#000"},{"offset":0.8333,"color":"#000"},{"offset":0.8333,"color":"transparent"},{"offset":0.8883,"color":"transparent"},{"offset":0.8883,"color":"#000"},{"offset":0.9167,"color":"#000"},{"offset":0.9167,"color":"transparent"},{"offset":0.9717,"color":"transparent"},{"offset":0.9717,"color":"#000"},{"offset":1,"color":"#000"}]}}},
     {"mark":{"type":"bar","fillOpacity":0,"stroke":"black","strokeWidth":1}},
     {"transform":[{"filter":"datum.sig==1"}],"mark":{"type":"text","text":"*","fontSize":20,"fontWeight":"bold","baseline":"alphabetic","dy":8},"encoding":{"y":{"field":"top","type":"quantitative","title":"OCR (pmol·min⁻¹)","scale":{"domain":[0,800],"nice":false},"axis":{"values":[0,100,200,300,400,500,600,700,800],"labelFontWeight":"normal","titleFontWeight":"normal","titleFontSize":8}}}}
    ]},
   {"data":{"name":"brk"},"transform":[{"filter":"datum.p=='E'"}],
    "encoding":{"y":{"field":"hi","type":"quantitative","title":"OCR (pmol·min⁻¹)","scale":{"domain":[0,800],"nice":false},"axis":{"values":[0,100,200,300,400,500,600,700,800],"labelFontWeight":"normal","titleFontWeight":"normal","titleFontSize":8}}},
    "layer":[
     {"mark":{"type":"rule","color":"black"},"encoding":{"y2":{"field":"lo"}}},
     {"mark":{"type":"line","color":"black","strokeWidth":1},"encoding":{"detail":{"field":"pair"}}},
     {"transform":[{"filter":"indexof(datum.c,'S')>=0"}],"mark":{"type":"text","text":"#","fontSize":10,"baseline":"bottom","dy":-1,"xOffset":-11}}
    ]}
  ]},
 {"width":176,"height":39,
  "layer":[
   {"data":{"name":"signs"},"mark":{"type":"text","fontSize":10,"fontWeight":"bold"},
    "encoding":{"x":{"field":"c","type":"nominal","scale":{"domain":["H","HS","HF","HSF","O","OS","OF","OSF"],"paddingInner":0.34,"paddingOuter":0.2},"axis":null},
     "y":{"field":"row","type":"nominal","scale":{"domain":["siPARP-1","FK866","grp"],"paddingInner":0,"paddingOuter":0},"axis":{"title":null,"domain":false,"ticks":false,"labelAlign":"left","labelPadding":34,"labelFontSize":8,"labelExpr":"datum.label=='grp'?'':datum.label"}},
     "text":{"field":"sign"}}},
   {"data":{"name":"groups"},"mark":{"type":"bar","height":1.5,"yOffset":-6,"color":"#333"},
    "encoding":{"x":{"field":"g","type":"nominal","scale":{"domain":["hypoxia","OGD"],"paddingInner":0.12,"paddingOuter":0.02},"axis":null},"y":{"field":"row","type":"nominal"}}},
   {"data":{"name":"groups"},"mark":{"type":"text","fontSize":8.5,"fontWeight":"bold","yOffset":1},
    "encoding":{"x":{"field":"g","type":"nominal","scale":{"domain":["hypoxia","OGD"],"paddingInner":0.12,"paddingOuter":0.02},"axis":null},"y":{"field":"row","type":"nominal"},"text":{"field":"g"}}}
  ],
  "resolve":{"scale":{"x":"independent"}}}
 ]},
{"title":{"text":"F","anchor":"start","fontSize":24,"fontWeight":"bold","offset":-12},"spacing":3,
 "vconcat":[
 {"width":177,"height":100,
  "title":{"text":"Anaerobic compensation","fontSize":11,"fontWeight":"bold","offset":7},
  "encoding":{"x":{"field":"c","type":"nominal","title":null,"scale":{"domain":["H","HS","HF","HSF","O","OS","OF","OSF"],"paddingInner":0.34,"paddingOuter":0.2},"axis":{"labels":false,"ticks":false,"domainWidth":1.5}}},
  "layer":[
   {"data":{"name":"bars"},"transform":[{"filter":"datum.p=='F'"},{"calculate":"datum.v+datum.e","as":"top"}],
    "encoding":{"y":{"field":"v","type":"quantitative","title":"ECAR (mpH·min⁻¹)","scale":{"domain":[0,40],"nice":false},"axis":{"values":[0,10,20,30,40],"labelFontWeight":"normal","titleFontWeight":"normal","titleFontSize":8}}},
    "layer":[
     {"mark":{"type":"rule","color":"black"},"encoding":{"y2":{"field":"top"}}},
     {"mark":{"type":"tick","color":"black","size":7,"thickness":1},"encoding":{"y":{"field":"top","type":"quantitative","title":"ECAR (mpH·min⁻¹)","scale":{"domain":[0,40],"nice":false},"axis":{"values":[0,10,20,30,40],"labelFontWeight":"normal","titleFontWeight":"normal","titleFontSize":8}}}},
     {"mark":{"type":"bar","stroke":"black","strokeWidth":1},"encoding":{"fill":{"field":"c","type":"nominal","scale":{"domain":["H","HS","HF","HSF","O","OS","OF","OSF"],"range":["#cdcdcd","#ffffff","#ffffff","#ffffff","#6e6e6e","#5a5a5a","#8a8a8a","#8a8a8a"]},"legend":null}}},
     {"transform":[{"filter":"indexof(datum.c,'S')>=0"}],"mark":{"type":"bar","strokeWidth":0,"fill":{"gradient":"linear","x1":0,"y1":0,"x2":1,"y2":0,"stops":[{"offset":0,"color":"transparent"},{"offset":0.1,"color":"transparent"},{"offset":0.1,"color":"#000"},{"offset":0.19,"color":"#000"},{"offset":0.19,"color":"transparent"},{"offset":0.35,"color":"transparent"},{"offset":0.35,"color":"#000"},{"offset":0.44,"color":"#000"},{"offset":0.44,"color":"transparent"},{"offset":0.6,"color":"transparent"},{"offset":0.6,"color":"#000"},{"offset":0.69,"color":"#000"},{"offset":0.69,"color":"transparent"},{"offset":0.85,"color":"transparent"},{"offset":0.85,"color":"#000"},{"offset":0.94,"color":"#000"},{"offset":0.94,"color":"transparent"},{"offset":1,"color":"transparent"}]}}},
     {"transform":[{"filter":"indexof(datum.c,'F')>=0"}],"mark":{"type":"bar","strokeWidth":0,"fill":{"gradient":"linear","x1":0,"y1":0,"x2":0,"y2":1,"stops":[{"offset":0,"color":"transparent"},{"offset":0.055,"color":"transparent"},{"offset":0.055,"color":"#000"},{"offset":0.0833,"color":"#000"},{"offset":0.0833,"color":"transparent"},{"offset":0.1383,"color":"transparent"},{"offset":0.1383,"color":"#000"},{"offset":0.1667,"color":"#000"},{"offset":0.1667,"color":"transparent"},{"offset":0.2217,"color":"transparent"},{"offset":0.2217,"color":"#000"},{"offset":0.25,"color":"#000"},{"offset":0.25,"color":"transparent"},{"offset":0.305,"color":"transparent"},{"offset":0.305,"color":"#000"},{"offset":0.3333,"color":"#000"},{"offset":0.3333,"color":"transparent"},{"offset":0.3883,"color":"transparent"},{"offset":0.3883,"color":"#000"},{"offset":0.4167,"color":"#000"},{"offset":0.4167,"color":"transparent"},{"offset":0.4717,"color":"transparent"},{"offset":0.4717,"color":"#000"},{"offset":0.5,"color":"#000"},{"offset":0.5,"color":"transparent"},{"offset":0.555,"color":"transparent"},{"offset":0.555,"color":"#000"},{"offset":0.5833,"color":"#000"},{"offset":0.5833,"color":"transparent"},{"offset":0.6383,"color":"transparent"},{"offset":0.6383,"color":"#000"},{"offset":0.6667,"color":"#000"},{"offset":0.6667,"color":"transparent"},{"offset":0.7217,"color":"transparent"},{"offset":0.7217,"color":"#000"},{"offset":0.75,"color":"#000"},{"offset":0.75,"color":"transparent"},{"offset":0.805,"color":"transparent"},{"offset":0.805,"color":"#000"},{"offset":0.8333,"color":"#000"},{"offset":0.8333,"color":"transparent"},{"offset":0.8883,"color":"transparent"},{"offset":0.8883,"color":"#000"},{"offset":0.9167,"color":"#000"},{"offset":0.9167,"color":"transparent"},{"offset":0.9717,"color":"transparent"},{"offset":0.9717,"color":"#000"},{"offset":1,"color":"#000"}]}}},
     {"mark":{"type":"bar","fillOpacity":0,"stroke":"black","strokeWidth":1}},
     {"transform":[{"filter":"datum.sig==1"}],"mark":{"type":"text","text":"*","fontSize":20,"fontWeight":"bold","baseline":"alphabetic","dy":8},"encoding":{"y":{"field":"top","type":"quantitative","title":"ECAR (mpH·min⁻¹)","scale":{"domain":[0,40],"nice":false},"axis":{"values":[0,10,20,30,40],"labelFontWeight":"normal","titleFontWeight":"normal","titleFontSize":8}}}}
    ]},
   {"data":{"name":"brk"},"transform":[{"filter":"datum.p=='F'"}],
    "encoding":{"y":{"field":"hi","type":"quantitative","title":"ECAR (mpH·min⁻¹)","scale":{"domain":[0,40],"nice":false},"axis":{"values":[0,10,20,30,40],"labelFontWeight":"normal","titleFontWeight":"normal","titleFontSize":8}}},
    "layer":[
     {"mark":{"type":"rule","color":"black"},"encoding":{"y2":{"field":"lo"}}},
     {"mark":{"type":"line","color":"black","strokeWidth":1},"encoding":{"detail":{"field":"pair"}}},
     {"transform":[{"filter":"indexof(datum.c,'S')>=0"}],"mark":{"type":"text","text":"#","fontSize":10,"baseline":"bottom","dy":-1,"xOffset":-11}}
    ]}
  ]},
 {"width":177,"height":39,
  "layer":[
   {"data":{"name":"signs"},"mark":{"type":"text","fontSize":10,"fontWeight":"bold"},
    "encoding":{"x":{"field":"c","type":"nominal","scale":{"domain":["H","HS","HF","HSF","O","OS","OF","OSF"],"paddingInner":0.34,"paddingOuter":0.2},"axis":null},
     "y":{"field":"row","type":"nominal","scale":{"domain":["siPARP-1","FK866","grp"],"paddingInner":0,"paddingOuter":0},"axis":{"title":null,"domain":false,"ticks":false,"labelAlign":"left","labelPadding":53,"labelFontSize":8,"labelExpr":"datum.label=='grp'?'':datum.label"}},
     "text":{"field":"sign"}}},
   {"data":{"name":"groups"},"mark":{"type":"bar","height":1.5,"yOffset":-6,"color":"#333"},
    "encoding":{"x":{"field":"g","type":"nominal","scale":{"domain":["hypoxia","OGD"],"paddingInner":0.12,"paddingOuter":0.02},"axis":null},"y":{"field":"row","type":"nominal"}}},
   {"data":{"name":"groups"},"mark":{"type":"text","fontSize":8.5,"fontWeight":"bold","yOffset":1},
    "encoding":{"x":{"field":"g","type":"nominal","scale":{"domain":["hypoxia","OGD"],"paddingInner":0.12,"paddingOuter":0.02},"axis":null},"y":{"field":"row","type":"nominal"},"text":{"field":"g"}}}
  ],
  "resolve":{"scale":{"x":"independent"}}}
 ]}
],"spacing":24}
]}
]
}
